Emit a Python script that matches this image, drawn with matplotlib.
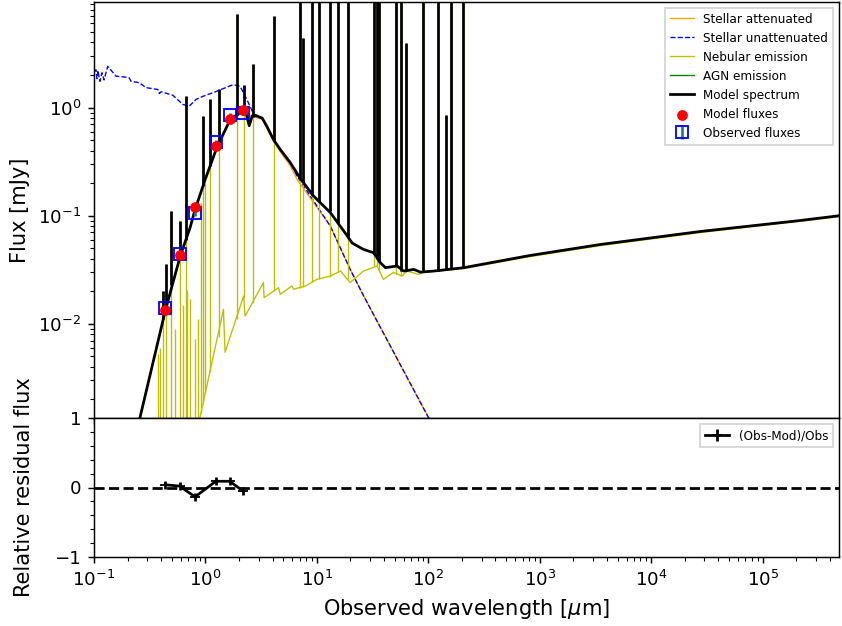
import numpy as np
import matplotlib
matplotlib.use("Agg")
import matplotlib.pyplot as plt
from matplotlib.ticker import AutoMinorLocator

# ---------------- data ----------------
# Model spectrum continuum [um], [mJy]
model_wl = [0.240, 0.259, 0.435, 0.593, 0.729, 0.807, 0.994, 1.265, 1.667, 2.05, 2.32, 2.47,
            2.63, 2.86, 3.23, 3.56, 4.08, 4.69, 5.77, 7.10, 9.34, 13.2, 18.6, 20.7, 26.1, 32.3,
            37.1, 41.2, 52.4, 60.1, 74.0, 84.9, 112, 208, 826, 3520, 27800, 220000, 484000]
model_flux = [9.0e-4, 1.37e-3, 0.0131, 0.0421, 0.078, 0.114, 0.216, 0.427, 0.775, 0.90, 0.88, 0.68,
              0.84, 0.84, 0.80, 0.67, 0.506, 0.41, 0.31, 0.221, 0.152, 0.107, 0.0658, 0.0560, 0.0489,
              0.0455, 0.0368, 0.0331, 0.0343, 0.0308, 0.0319, 0.0301, 0.0308, 0.0331, 0.0430,
              0.0543, 0.0716, 0.0905, 0.100]

# Emission lines: wavelength, model continuum under the line, nebular continuum, line peak
line_wl = [0.414, 0.444, 0.489, 0.593, 0.667, 0.959, 1.10, 1.31, 1.92, 2.20, 2.65, 4.14, 6.99,
           7.50, 9.03, 10.5, 13.0, 15.6, 19.1, 32.8, 34.7, 36.4, 51.7, 57.3, 63.6, 89.7, 122,
           145.5, 161, 205]
line_model_base = [0.011, 0.015, 0.023, 0.042, 0.060, 0.19, 0.29, 0.45, 0.86, 0.90, 0.82, 0.50,
                   0.225, 0.207, 0.155, 0.135, 0.11, 0.085, 0.064, 0.044, 0.040, 0.037, 0.034,
                   0.031, 0.031, 0.030, 0.031, 0.032, 0.032, 0.033]
line_neb_base = [5e-4, 5e-4, 5e-4, 5e-4, 5e-4, 1.9e-3, 3.6e-3, 7.6e-3, 0.011, 0.0175, 0.0155,
                 0.020, 0.0215, 0.022, 0.0245, 0.026, 0.0274, 0.030, 0.026, 0.034, 0.034, 0.031,
                 0.029, 0.028, 0.030, 0.030, 0.031, 0.032, 0.032, 0.033]
line_peak = [0.0200, 0.0355, 0.110, 0.0886, 1.29, 0.84, 1.19, 1.47, 7.38, 1.63, 2.55, 7.07, 20,
             4.43, 20, 20, 20, 20, 20, 20, 20, 20, 20, 20, 3.98, 20, 20, 0.862, 20, 20]

# Weak nebular lines (below the model curve)
weak_wl = [0.376, 0.392, 0.535, 0.63, 0.685, 0.730, 0.807, 0.859, 0.92, 1.00]
weak_base = [5e-4, 5e-4, 5e-4, 5e-4, 5e-4, 5e-4, 5e-4, 5e-4, 1.5e-3, 2.3e-3]
weak_peak = [0.00524, 0.006, 0.0089, 0.015, 0.0204, 0.0169, 0.0072, 0.011, 0.13, 0.20]

# Nebular continuum
neb_wl = [0.85, 0.895, 1.45, 1.50, 2.20, 2.27, 3.31, 3.36, 4.53, 4.69, 5.97, 6.18, 7.87, 10.0,
          13.2, 16.3, 19.9, 26.2, 34.7, 39.5, 48.6, 58.1, 64.5, 81.5, 97.5, 123, 208, 826, 3520,
          27800, 220000, 484000]
neb_flux = [8e-4, 1.37e-3, 0.0136, 0.00547, 0.0181, 0.0118, 0.0241, 0.0175, 0.0216, 0.0188,
            0.0224, 0.0209, 0.0224, 0.0258, 0.0277, 0.0308, 0.0241, 0.0308, 0.0343, 0.0258,
            0.0299, 0.0277, 0.0308, 0.0287, 0.0308, 0.0308, 0.0325, 0.042, 0.053, 0.070, 0.089,
            0.098]

# Stellar unattenuated
su_wl = [0.100, 0.1042, 0.1063, 0.1085, 0.113, 0.118, 0.123, 0.1328, 0.1577, 0.185, 0.2063,
         0.215, 0.2537, 0.2932, 0.3737, 0.385, 0.3998, 0.42, 0.510, 0.626, 0.715, 0.823, 0.948,
         1.25, 1.77, 2.05, 2.35, 2.69, 3.23, 4.08, 4.69, 5.77, 6.67, 13.2, 19.9, 26.3, 100, 156]
su_flux = [2.15, 2.24, 1.85, 2.20, 1.75, 2.10, 1.80, 2.41, 1.95, 1.92, 1.89, 1.75, 1.70, 1.53,
           1.47, 1.35, 1.40, 1.38, 1.30, 1.07, 1.03, 1.19, 1.27, 1.41, 1.63, 1.57, 1.19, 0.88,
           0.80, 0.506, 0.41, 0.31, 0.231, 0.0802, 0.0319, 0.0181, 1.37e-3, 5.8e-4]

# Stellar attenuated
sa_wl = [0.240, 0.259, 0.435, 0.593, 0.729, 0.807, 0.994, 1.265, 1.667, 2.05, 2.35, 2.69, 3.23,
         4.08, 4.69, 5.77, 6.67, 13.2, 19.9, 26.3, 100, 156]
sa_flux = [9.0e-4, 1.37e-3, 0.0131, 0.0421, 0.078, 0.114, 0.214, 0.42, 0.76, 0.87, 0.85, 0.82,
           0.78, 0.49, 0.39, 0.29, 0.215, 0.0802, 0.0319, 0.0181, 1.37e-3, 5.8e-4]

# Photometry
filter_wl = [0.435, 0.586, 0.807, 1.24, 1.65, 2.17]
obs_flux = [0.0139, 0.0439, 0.1066, 0.478, 0.849, 0.900]
obs_err = [0.00028, 0.00088, 0.0021, 0.0096, 0.017, 0.018]
mod_flux = [0.0134, 0.0433, 0.121, 0.439, 0.787, 0.953]
residual = [0.04, 0.02, -0.135, 0.09, 0.09, -0.05]
residual_err = [0.06, 0.06, 0.06, 0.06, 0.06, 0.06]

xmin, xmax = 0.1, 4.84e5
ymin, ymax = 1.34e-3, 9.53

# ---------------- figure ----------------
DPI = 131.5
LABEL_FS = 11.5
LEG_FS = 6.6
THIN = 0.75
fig = plt.figure(figsize=(842 / DPI, 626 / DPI), dpi=DPI)
ax1 = fig.add_axes([94 / 842, 1 - 418.3 / 626, 745 / 842, 416.6 / 626])
ax2 = fig.add_axes([94 / 842, 1 - 556.7 / 626, 745 / 842, 138.4 / 626], sharex=ax1)

h_sa, = ax1.plot(sa_wl, sa_flux, color='orange', lw=THIN, label='Stellar attenuated')
h_su, = ax1.plot(su_wl, su_flux, color='b', ls='--', lw=THIN, label='Stellar unattenuated')
h_neb, = ax1.plot(neb_wl, neb_flux, color='y', lw=THIN, label='Nebular emission')
ax1.vlines(line_wl, line_neb_base, line_peak, color='y', lw=THIN)
ax1.vlines(weak_wl, weak_base, weak_peak, color='y', lw=THIN)
h_agn, = ax1.plot([], [], color='g', lw=THIN, label='AGN emission')
h_mod, = ax1.plot(model_wl, model_flux, color='k', lw=1.5, label='Model spectrum')
ax1.vlines(line_wl, line_model_base, line_peak, color='k', lw=1.5)
h_mf = ax1.scatter(filter_wl, mod_flux, marker='o', color='r', s=24, zorder=3, label='Model fluxes')
h_obs = ax1.errorbar(filter_wl, obs_flux, yerr=np.array(obs_err) * 3, ls='', marker='s',
                     markerfacecolor='None', markersize=6.5, markeredgecolor='b', capsize=0.,
                     label='Observed fluxes')
ax1.set_xscale('log')
ax1.set_yscale('log')
ax1.set_xlim(xmin, xmax)
ax1.set_ylim(ymin, ymax)
ax1.set_ylabel('Flux [mJy]', fontsize=LABEL_FS)
ax1.legend(handles=[h_sa, h_su, h_neb, h_agn, h_mod, h_mf, h_obs], fontsize=LEG_FS,
           loc='upper right', fancybox=False)
plt.setp(ax1.get_xticklabels(), visible=False)

h_res = ax2.errorbar(filter_wl, residual, yerr=residual_err, marker='_', color='k', capsize=0.,
                     label='(Obs-Mod)/Obs')
ax2.plot([xmin, xmax], [0., 0.], ls='--', color='k')
ax2.set_xscale('log')
ax2.set_xlim(xmin, xmax)
ax2.set_ylim(-1.0, 1.0)
ax2.yaxis.set_minor_locator(AutoMinorLocator())
ax2.set_xlabel(r'Observed wavelength [$\mu$m]', fontsize=LABEL_FS)
ax2.set_ylabel('Relative residual flux', fontsize=LABEL_FS)
ax2.legend(fontsize=LEG_FS, loc='upper right', fancybox=False)

ax1.yaxis.set_label_coords(-0.086, 0.5)
ax2.yaxis.set_label_coords(-0.080, 0.5)

fig.savefig('out.png', dpi=DPI)
